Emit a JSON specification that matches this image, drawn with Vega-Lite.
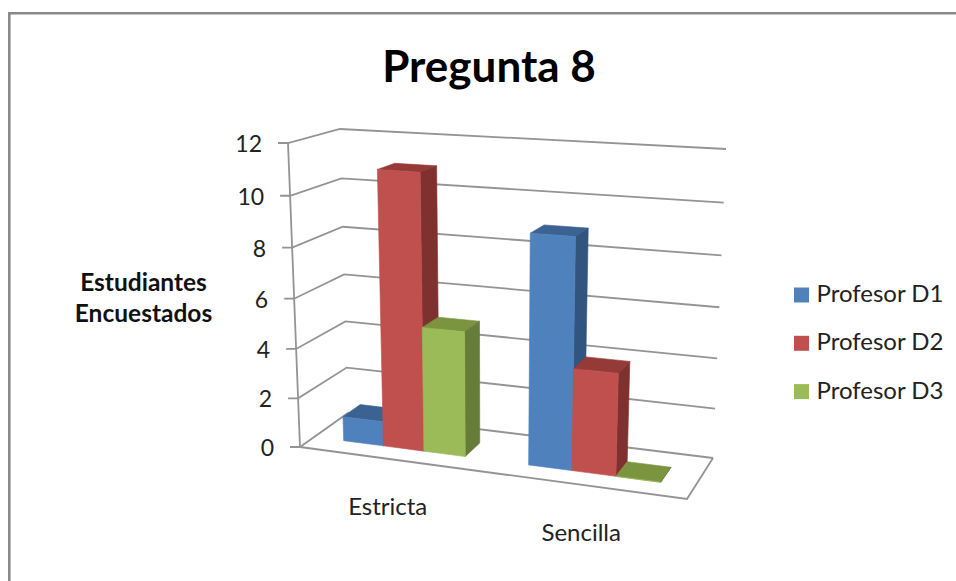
{
  "$schema": "https://vega.github.io/schema/vega-lite/v6.json",
  "width": 956,
  "height": 581,
  "padding": 0,
  "autosize": "none",
  "background": "white",
  "view": {"stroke": null},
  "title": {"text": "Pregunta 8", "font": "Lato", "fontSize": 44, "fontWeight": "bold", "color": "#000000", "anchor": "middle", "dx": 11, "offset": -126, "baseline": "alphabetic"},
  "config": {"text": {"font": "Lato", "color": "#222222"}},
  "resolve": {"axis": {"y": "independent"}},
  "layer": [
    {
      "data": {"values": [{"borde": "marco izquierdo"}]},
      "mark": {"type": "rule", "color": "#8a8a8a", "strokeWidth": 2.6},
      "encoding": {
        "x": {"datum": 9.3, "type": "quantitative", "scale": {"domain": [0, 956], "nice": false, "zero": false}, "axis": null},
        "y": {"datum": 13.2, "type": "quantitative", "scale": {"domain": [581, 0], "nice": false, "zero": false},
          "axis": {"title": ["Estudiantes", "Encuestados"], "titleFont": "Lato", "titleFontSize": 24.5, "titleFontWeight": "bold", "titleColor": "#111111", "titleAngle": 0, "titleAlign": "center", "titleBaseline": "alphabetic", "titleX": 143, "titleY": 290, "titleLineHeight": 31, "domain": false, "ticks": false, "labels": false, "grid": false}},
        "y2": {"datum": 581}
      }
    },
    {
      "data": {"values": [{"borde": "marco superior"}]},
      "mark": {"type": "rule", "color": "#8a8a8a", "strokeWidth": 2.6},
      "encoding": {
        "x": {"datum": 8, "type": "quantitative", "scale": {"domain": [0, 956], "nice": false, "zero": false}, "axis": null},
        "x2": {"datum": 956},
        "y": {"datum": 13.2, "type": "quantitative", "scale": {"domain": [581, 0], "nice": false, "zero": false}, "axis": null}
      }
    },
    {
      "data": {"values": [{"valor": 0}, {"valor": 2}, {"valor": 4}, {"valor": 6}, {"valor": 8}, {"valor": 10}, {"valor": 12}]},
      "transform": [
        {"calculate": "[0, 1, 2, 3]", "as": "k"},
        {"flatten": ["k"]},
        {"calculate": "datum.valor / 12 / (1 + 0.05 * (1 - datum.valor / 12))", "as": "t"},
        {"calculate": "datum.k == 3 ? 1 : 0", "as": "u"},
        {"calculate": "datum.k >= 2 ? 1 : 0", "as": "w"},
        {"calculate": "(1-datum.t)*((1-datum.w)*((1-datum.u)*300+datum.u*687)+datum.w*((1-datum.u)*348+datum.u*713))+datum.t*((1-datum.w)*((1-datum.u)*288+datum.u*699)+datum.w*((1-datum.u)*340+datum.u*726)) - (datum.k == 0 ? 10 : 0)", "as": "px"},
        {"calculate": "(1-datum.t)*((1-datum.w)*((1-datum.u)*447+datum.u*499)+datum.w*((1-datum.u)*413+datum.u*458))+datum.t*((1-datum.w)*((1-datum.u)*143+datum.u*168)+datum.w*((1-datum.u)*129+datum.u*149))", "as": "py"}
      ],
      "mark": {"type": "line", "color": "#949494", "strokeWidth": 1.8, "interpolate": "linear"},
      "encoding": {
        "x": {"field": "px", "type": "quantitative", "scale": {"domain": [0, 956], "nice": false, "zero": false}, "axis": null},
        "y": {"field": "py", "type": "quantitative", "scale": {"domain": [581, 0], "nice": false, "zero": false}, "axis": null},
        "detail": {"field": "valor"},
        "order": {"field": "k"}
      }
    },
    {
      "data": {"values": [{"borde": "piso"}, {"borde": "eje"}]},
      "transform": [
        {"calculate": "[0, 1, 2]", "as": "k"},
        {"flatten": ["k"]},
        {"filter": "datum.borde == 'piso' || datum.k < 2"},
        {"calculate": "datum.borde == 'piso' ? (datum.k >= 1 ? 1 : 0) : 0", "as": "u"},
        {"calculate": "datum.borde == 'piso' && datum.k == 2 ? 1 : 0", "as": "w"},
        {"calculate": "datum.borde == 'eje' ? datum.k : 0", "as": "t"},
        {"calculate": "(1-datum.t)*((1-datum.w)*((1-datum.u)*300+datum.u*687)+datum.w*((1-datum.u)*348+datum.u*713))+datum.t*((1-datum.w)*((1-datum.u)*288+datum.u*699)+datum.w*((1-datum.u)*340+datum.u*726))", "as": "px"},
        {"calculate": "(1-datum.t)*((1-datum.w)*((1-datum.u)*447+datum.u*499)+datum.w*((1-datum.u)*413+datum.u*458))+datum.t*((1-datum.w)*((1-datum.u)*143+datum.u*168)+datum.w*((1-datum.u)*129+datum.u*149))", "as": "py"}
      ],
      "mark": {"type": "line", "color": "#949494", "strokeWidth": 1.8, "interpolate": "linear"},
      "encoding": {
        "x": {"field": "px", "type": "quantitative", "scale": {"domain": [0, 956], "nice": false, "zero": false}, "axis": null},
        "y": {"field": "py", "type": "quantitative", "scale": {"domain": [581, 0], "nice": false, "zero": false}, "axis": null},
        "detail": {"field": "borde"},
        "order": {"field": "k"}
      }
    },
    {
      "data": {"values": [
        {"categoria": "Estricta", "profesor": "Profesor D1", "valor": 1},
        {"categoria": "Estricta", "profesor": "Profesor D2", "valor": 11},
        {"categoria": "Estricta", "profesor": "Profesor D3", "valor": 5},
        {"categoria": "Sencilla", "profesor": "Profesor D1", "valor": 9},
        {"categoria": "Sencilla", "profesor": "Profesor D2", "valor": 4},
        {"categoria": "Sencilla", "profesor": "Profesor D3", "valor": 0}
      ]},
      "transform": [
        {"calculate": "indexof(['Estricta', 'Sencilla'], datum.categoria)", "as": "c"},
        {"calculate": "indexof(['Profesor D1', 'Profesor D2', 'Profesor D3'], datum.profesor)", "as": "s"},
        {"calculate": "(datum.c * 4.5 + 0.75 + datum.s) / 9", "as": "a"},
        {"calculate": "(datum.c * 4.5 + 1.75 + datum.s) / 9", "as": "b"},
        {"calculate": "datum.a - 0.083 * datum.a * (1 - datum.a)", "as": "ua"},
        {"calculate": "datum.b - 0.083 * datum.b * (1 - datum.b)", "as": "ub"},
        {"calculate": "datum.valor / 12 / (1 + 0.05 * (1 - datum.valor / 12))", "as": "th"},
        {"calculate": "['arriba', 'lado', 'frente']", "as": "cara"},
        {"flatten": ["cara"]},
        {"calculate": "[0, 1, 2, 3, 4]", "as": "k"},
        {"flatten": ["k"]},
        {"calculate": "datum.cara == 'lado' ? datum.ub : [datum.ua, datum.ub, datum.ub, datum.ua, datum.ua][datum.k]", "as": "u"},
        {"calculate": "datum.cara == 'frente' ? 0.3 : datum.cara == 'arriba' ? [0.3, 0.3, 0.67, 0.67, 0.3][datum.k] : [0.3, 0.67, 0.67, 0.3, 0.3][datum.k]", "as": "w"},
        {"calculate": "datum.cara == 'arriba' ? datum.th : [0, 0, datum.th, datum.th, 0][datum.k]", "as": "t"},
        {"calculate": "(1-datum.t)*((1-datum.w)*((1-datum.u)*300+datum.u*687)+datum.w*((1-datum.u)*348+datum.u*713))+datum.t*((1-datum.w)*((1-datum.u)*288+datum.u*699)+datum.w*((1-datum.u)*340+datum.u*726))", "as": "px"},
        {"calculate": "(1-datum.t)*((1-datum.w)*((1-datum.u)*447+datum.u*499)+datum.w*((1-datum.u)*413+datum.u*458))+datum.t*((1-datum.w)*((1-datum.u)*143+datum.u*168)+datum.w*((1-datum.u)*129+datum.u*149))", "as": "py"},
        {"calculate": "datum.cara == 'frente' ? datum.profesor : datum.profesor + ' ' + datum.cara", "as": "tono"},
        {"calculate": "datum.categoria + datum.profesor + datum.cara", "as": "poligono"}
      ],
      "mark": {"type": "line", "interpolate": "linear", "strokeWidth": 0.6},
      "encoding": {
        "x": {"field": "px", "type": "quantitative", "scale": {"domain": [0, 956], "nice": false, "zero": false}, "axis": null},
        "y": {"field": "py", "type": "quantitative", "scale": {"domain": [581, 0], "nice": false, "zero": false}, "axis": null},
        "detail": {"field": "poligono"},
        "order": {"field": "k"},
        "fill": {
          "field": "tono", "type": "nominal",
          "scale": {
            "domain": ["Profesor D1", "Profesor D2", "Profesor D3", "Profesor D1 lado", "Profesor D2 lado", "Profesor D3 lado", "Profesor D1 arriba", "Profesor D2 arriba", "Profesor D3 arriba"],
            "range": ["#4f81bd", "#c0504d", "#9bbb59", "#32557f", "#7f312f", "#667c39", "#3c6292", "#943b38", "#7a9440"]
          },
          "legend": {
            "title": null, "values": ["Profesor D1", "Profesor D2", "Profesor D3"],
            "orient": "none", "legendX": 789.5, "legendY": 283,
            "symbolType": "square", "symbolSize": 225, "symbolStrokeWidth": 0, "symbolOpacity": 1,
            "labelFont": "Lato", "labelFontSize": 24, "labelColor": "#222222", "labelOffset": 3,
            "rowPadding": 24.3, "labelLimit": 200
          }
        },
        "stroke": {
          "field": "tono", "type": "nominal",
          "scale": {
            "domain": ["Profesor D1", "Profesor D2", "Profesor D3", "Profesor D1 lado", "Profesor D2 lado", "Profesor D3 lado", "Profesor D1 arriba", "Profesor D2 arriba", "Profesor D3 arriba"],
            "range": ["#4f81bd", "#c0504d", "#9bbb59", "#32557f", "#7f312f", "#667c39", "#3c6292", "#943b38", "#7a9440"]
          },
          "legend": null
        }
      }
    },
    {
      "data": {"values": [{"valor": 0}, {"valor": 2}, {"valor": 4}, {"valor": 6}, {"valor": 8}, {"valor": 10}, {"valor": 12}]},
      "transform": [
        {"calculate": "datum.valor / 12 / (1 + 0.05 * (1 - datum.valor / 12))", "as": "t"},
        {"calculate": "(1-datum.t)*300+datum.t*288", "as": "px"},
        {"calculate": "(1-datum.t)*447+datum.t*143", "as": "py"}
      ],
      "mark": {"type": "text", "align": "right", "baseline": "middle", "dx": -26, "dy": 2, "fontSize": 23},
      "encoding": {
        "x": {"field": "px", "type": "quantitative", "scale": {"domain": [0, 956], "nice": false, "zero": false}, "axis": null},
        "y": {"field": "py", "type": "quantitative", "scale": {"domain": [581, 0], "nice": false, "zero": false}, "axis": null},
        "text": {"field": "valor", "type": "quantitative"}
      }
    },
    {
      "data": {"values": [{"categoria": "Estricta"}, {"categoria": "Sencilla"}]},
      "transform": [
        {"calculate": "(indexof(['Estricta', 'Sencilla'], datum.categoria) + 0.5) / 2", "as": "a"},
        {"calculate": "datum.a - 0.083 * datum.a * (1 - datum.a)", "as": "u"},
        {"calculate": "(1-datum.u)*300+datum.u*687", "as": "px"},
        {"calculate": "(1-datum.u)*447+datum.u*499", "as": "py"}
      ],
      "mark": {"type": "text", "align": "center", "baseline": "middle", "dx": -3, "dy": 49, "fontSize": 24},
      "encoding": {
        "x": {"field": "px", "type": "quantitative", "scale": {"domain": [0, 956], "nice": false, "zero": false}, "axis": null},
        "y": {"field": "py", "type": "quantitative", "scale": {"domain": [581, 0], "nice": false, "zero": false}, "axis": null},
        "text": {"field": "categoria", "type": "nominal"}
      }
    }
  ]
}
